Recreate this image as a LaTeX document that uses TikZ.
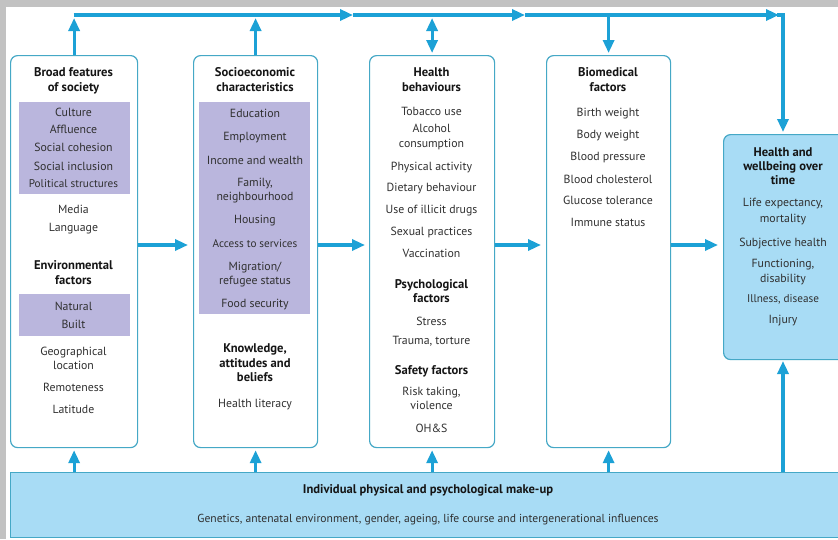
\documentclass[tikz,border=0pt]{standalone}
\usepackage{fontspec}
\setmainfont{PT Sans}
\usetikzlibrary{arrows.meta}

\definecolor{flowblue}{HTML}{1CA1D6}
\definecolor{panelline}{HTML}{45A8C6}
\definecolor{skyfill}{HTML}{A8DCF5}
\definecolor{lilac}{HTML}{BAB6DD}
\definecolor{itemgrey}{HTML}{303030}
\definecolor{headgrey}{HTML}{151515}
\definecolor{framegrey}{HTML}{C2C2C2}

\tikzset{
  flow/.style={draw=flowblue, line width=3.2pt},
  tip/.style={-{Triangle[length=13pt,width=11pt]}},
  twotip/.style={{Triangle[length=13pt,width=11pt]}-{Triangle[length=13pt,width=11pt]}},
  panel/.style={draw=panelline, line width=1.2pt, rounded corners=7pt, fill=white,
    anchor=north west, inner sep=0pt},
  healthpanel/.style={panel, fill=skyfill},
  band/.style={draw=panelline, line width=1.2pt, fill=skyfill, anchor=north west, inner sep=0pt},
  shade/.style={fill=lilac, draw=none, anchor=north west, inner sep=0pt},
  txt/.style={inner sep=0pt, text height=7pt, text depth=2pt, align=center},
  it/.style={txt, text=itemgrey, font=\fontsize{11.8}{13}\selectfont},
  sm/.style={txt, text=itemgrey, font=\fontsize{11.2}{13}\selectfont},
  bandline/.style={txt, text=itemgrey, font=\fontsize{11.6}{13}\selectfont},
  hd/.style={txt, text=headgrey, font=\fontsize{12.6}{14}\selectfont\bfseries},
}

\begin{document}
\begin{tikzpicture}[x=1pt, y=-1pt]
  \useasboundingbox (0,0) rectangle (838,539);
  \clip (0,0) rectangle (838,539);

  % screen frame
  \fill[framegrey] (0,0) rectangle (838,539);
  \fill[white] (6,7) rectangle (850,550);

  % panels
  \node[panel, minimum width=127pt, minimum height=392pt] (b1) at (10,55) {};
  \node[panel, minimum width=124pt, minimum height=392pt] (b2) at (193,55) {};
  \node[panel, minimum width=125pt, minimum height=392pt] (b3) at (369,55) {};
  \node[panel, minimum width=124pt, minimum height=392pt] (b4) at (546,55) {};
  \node[healthpanel, minimum width=130pt, minimum height=225pt] (b5) at (723,134) {};
  \node[band, minimum width=845pt, minimum height=65pt] (bd) at (10,472) {};

  % shaded groups
  \node[shade, minimum width=111pt, minimum height=92pt] (s1) at (19,102) {};
  \node[shade, minimum width=111pt, minimum height=42pt] (s2) at (19,294) {};
  \node[shade, minimum width=111pt, minimum height=212pt] (s3) at (199,102) {};

  % panel 1
  \foreach \ty/\sty/\tx [count=\k] in {
    74/hd/Broad features, 89/hd/of society,
    114/it/Culture, 131/it/Affluence, 149/it/Social cohesion,
    168/it/Social inclusion, 185/sm/Political structures,
    211/it/Media, 229/it/Language,
    267/hd/Environmental, 282/hd/factors,
    308/it/Natural, 326/it/Built,
    353/it/Geographical, 367/it/location,
    389/it/Remoteness, 411/it/Latitude}
    \node[\sty, name=a\k] at (73.5,\ty) {\tx};

  % panel 2
  \foreach \ty/\sty/\tx [count=\k] in {
    74/hd/Socioeconomic, 89/hd/characteristics,
    115/it/Education, 138/it/Employment, 162/it/Income and wealth,
    184/it/{Family,}, 198/it/neighbourhood, 221/it/Housing,
    245/sm/Access to services, 268/it/{Migration/}, 282/it/refugee status,
    305/it/Food security,
    350/hd/{Knowledge,}, 365/hd/attitudes and, 379/hd/beliefs,
    405/it/Health literacy}
    \node[\sty, name=c\k] at (255,\ty) {\tx};

  % panel 3
  \foreach \ty/\sty/\tx [count=\k] in {
    74/hd/Health, 89/hd/behaviours,
    113/it/Tobacco use, 130/it/Alcohol, 145/it/consumption,
    168/it/Physical activity, 189/it/Dietary behaviour,
    211/it/Use of illicit drugs, 233/it/Sexual practices, 255/it/Vaccination,
    286/hd/Psychological, 300/hd/factors,
    323/it/Stress, 342/it/{Trauma, torture},
    372/hd/Safety factors,
    393/it/{Risk taking,}, 407/it/violence, 430/it/OH\&S}
    \node[\sty, name=d\k] at (431.5,\ty) {\tx};

  % panel 4
  \foreach \ty/\sty/\tx [count=\k] in {
    74/hd/Biomedical, 89/hd/factors,
    114/it/Birth weight, 136/it/Body weight, 158/it/Blood pressure,
    181/it/Blood cholesterol, 202/it/Glucose tolerance, 224/it/Immune status}
    \node[\sty, name=e\k] at (608,\ty) {\tx};

  % outcome panel
  \foreach \ty/\sty/\tx [count=\k] in {
    154/hd/Health and, 168/hd/wellbeing over, 182/hd/time,
    204/it/{Life expectancy,}, 220/it/mortality,
    244/it/Subjective health,
    265/it/{Functioning,}, 280/it/disability,
    300/sm/{Illness, disease}, 321/it/Injury}
    \node[\sty, name=f\k] at (783,\ty) {\tx};

  % base band
  \node[hd, name=g1] at (428,491) {Individual physical and psychological make-up};
  \node[bandline, name=g2] at (428,520) {Genetics, antenatal environment, gender, ageing, life course and intergenerational influences};

  % top feedback line
  \coordinate (t1) at (73.5,15);
  \coordinate (m1) at (353,15);
  \coordinate (m2) at (525,15);
  \coordinate (m3) at (779,15);
  \coordinate (tr) at (783,15);
  \coordinate (h5) at (783,134);
  \coordinate (h5b) at (783,359);
  \coordinate (bd5) at (783,472);

  \draw[flow, tip] (t1) -- (m1);
  \draw[flow, tip] (m1) -- (m2);
  \draw[flow, tip] (m2) -- (m3);
  \draw[flow, line cap=rect] (m3) -- (tr);
  \draw[flow, tip, shorten >=2pt] (tr) -- (h5);

  \draw[flow, tip, shorten >=3pt] (b1.north) -- (b1.north |- t1);
  \draw[flow, tip, shorten >=3pt] (b2.north) -- (b2.north |- t1);
  \draw[flow, twotip, shorten >=3pt, shorten <=2pt] (b3.north) -- (b3.north |- t1);
  \draw[flow, tip, shorten >=2pt] (b4.north |- t1) -- (b4.north);

  % left-to-right flow
  \draw[flow, tip, shorten >=5pt] (b1.east |- 0,245) -- (b2.west |- 0,245);
  \draw[flow, tip, shorten >=4pt] (b2.east |- 0,245) -- (b3.west |- 0,245);
  \draw[flow, tip, shorten >=5pt] (b3.east |- 0,245) -- (b4.west |- 0,245);
  \draw[flow, tip, shorten >=5pt] (b4.east |- 0,245) -- (b5.west |- 0,245);

  % from the base band upwards
  \draw[flow, tip, shorten >=2pt] (bd.north -| b1.south) -- (b1.south);
  \draw[flow, tip, shorten >=2pt] (bd.north -| b2.south) -- (b2.south);
  \draw[flow, tip, shorten >=2pt] (bd.north -| b3.south) -- (b3.south);
  \draw[flow, tip, shorten >=2pt] (bd.north -| b4.south) -- (b4.south);
  \draw[flow, tip, shorten >=2pt] (bd5) -- (h5b);
\end{tikzpicture}
\end{document}
